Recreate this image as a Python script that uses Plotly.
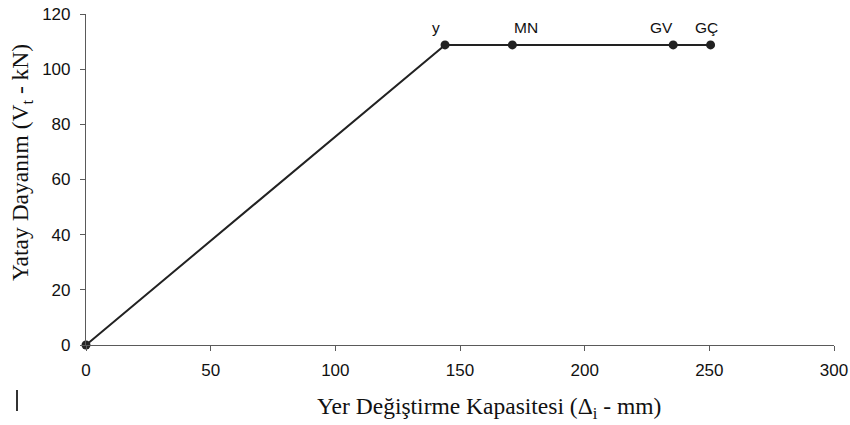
import plotly.graph_objects as go

# Idealized capacity curve: displacement (mm) vs lateral strength (kN)
displacement = [0, 144, 171, 235.5, 250.5]
strength = [0, 108.8, 108.8, 108.8, 108.8]
point_labels = ["", "y", "MN", "GV", "GÇ"]
label_shift = [0, -9, 14, -12, -4]

x_ticks = [0, 50, 100, 150, 200, 250, 300]
y_ticks = [0, 20, 40, 60, 80, 100, 120]

W, H = 850, 425
L, R, T, B = 86, 16, 14, 80
plot_w, plot_h = W - L - R, H - T - B


def px_x(p):
    return (p - L) / plot_w


def px_y(p):
    return (H - B - p) / plot_h


fig = go.Figure()
fig.add_trace(go.Scatter(
    x=displacement, y=strength, mode="lines+markers",
    line=dict(color="#222222", width=2),
    marker=dict(color="#222222", size=9),
    hoverinfo="skip", showlegend=False, cliponaxis=False,
))

for x, y, lab, dx in zip(displacement, strength, point_labels, label_shift):
    if lab:
        fig.add_annotation(x=x, y=y, text=lab, showarrow=False,
                           xshift=dx, yshift=17,
                           font=dict(family="Liberation Sans, Arial", size=15.5, color="#111111"))

serif = dict(family="Liberation Serif, Times New Roman", size=23.5, color="#111111")
fig.add_annotation(xref="paper", yref="paper", x=px_x(489), y=px_y(408),
                   text="Yer Değiştirme Kapasitesi (Δ<sub>i</sub> - mm)",
                   showarrow=False, xanchor="center", yanchor="middle", font=serif)
fig.add_annotation(xref="paper", yref="paper", x=px_x(22), y=px_y(163),
                   text="Yatay Dayanım (V<sub>t</sub> - kN)", textangle=-90,
                   showarrow=False, xanchor="center", yanchor="middle", font=serif)

# small vertical stroke at the lower left
fig.add_shape(type="line", xref="paper", yref="paper",
              x0=px_x(17), x1=px_x(17), y0=px_y(390), y1=px_y(411),
              line=dict(color="#333333", width=2))

axis_common = dict(
    showgrid=False, zeroline=False, showline=True, linecolor="#5a5a5a", linewidth=1.2,
    ticks="outside", ticklen=5, tickcolor="#5a5a5a", tickwidth=1.2, automargin=False,
    tickfont=dict(family="Liberation Sans, Arial", size=17, color="#111111"),
)

fig.update_xaxes(range=[0, 300], tickvals=x_ticks, ticklabelstandoff=4, **axis_common)
fig.update_yaxes(range=[0, 120], tickvals=y_ticks, ticklabelstandoff=6, **axis_common)

fig.update_layout(
    width=W, height=H,
    margin=dict(l=L, r=R, t=T, b=B),
    paper_bgcolor="white", plot_bgcolor="white",
)

fig.write_html("out.html")
